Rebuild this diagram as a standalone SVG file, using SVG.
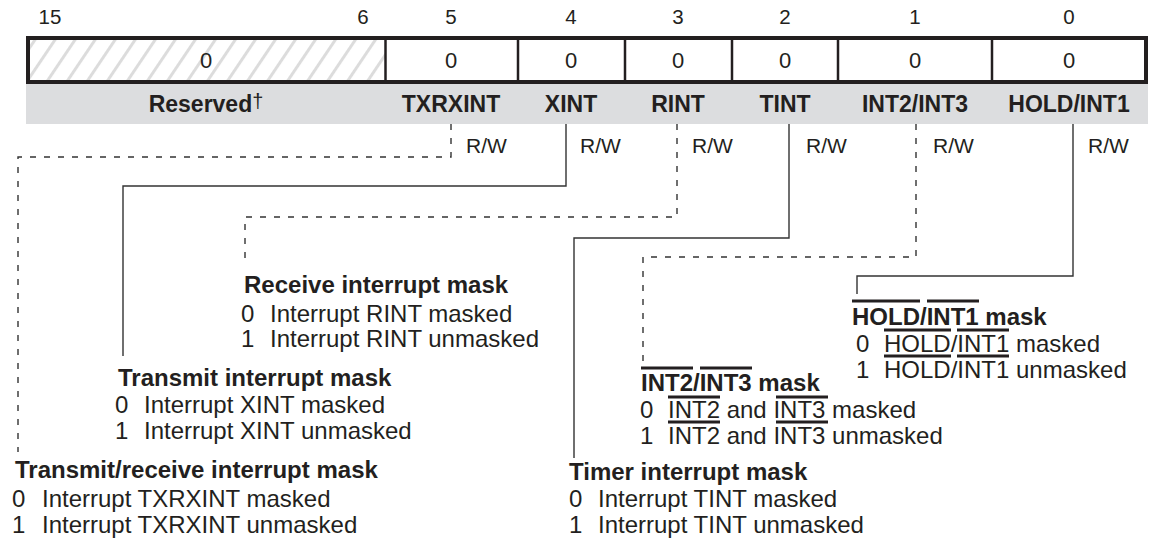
<svg xmlns="http://www.w3.org/2000/svg" width="1149" height="538" viewBox="0 0 1149 538">
<defs>
<pattern id="hatch" patternUnits="userSpaceOnUse" width="16.6" height="10" patternTransform="rotate(34)">
<rect x="0" y="0" width="3" height="10" fill="#dcdcdc"/>
</pattern>
</defs>
<style>
text{font-family:"Liberation Sans",Arial,sans-serif;fill:#231f20}
.bit{font-size:20.5px;text-anchor:middle}
.val{font-size:22px;text-anchor:middle}
.lbl{font-size:23px;font-weight:bold;text-anchor:middle}
.rw{font-size:21px}
.ttl{font-size:24px;font-weight:bold}
.d{font-size:24px}
.solid{fill:none;stroke:#333;stroke-width:1.4}
.dash{fill:none;stroke:#333;stroke-width:1.4;stroke-dasharray:6 8}
.bar{stroke:#231f20;stroke-width:3}
</style>
<g id="register">
<rect x="26" y="82" width="1122" height="42" fill="#dcdddf"/>
<rect x="28" y="38" width="357" height="44" fill="url(#hatch)"/>
<g stroke="#231f20" stroke-width="2.5">
<line x1="385.5" y1="38" x2="385.5" y2="82"/>
<line x1="518" y1="38" x2="518" y2="82"/>
<line x1="625" y1="38" x2="625" y2="82"/>
<line x1="732" y1="38" x2="732" y2="82"/>
<line x1="838" y1="38" x2="838" y2="82"/>
<line x1="992" y1="38" x2="992" y2="82"/>
</g>
<rect x="28" y="38" width="1118" height="44" fill="none" stroke="#231f20" stroke-width="4"/>
<text class="bit" x="50" y="24">15</text>
<text class="bit" x="363" y="24">6</text>
<text class="bit" x="451" y="24">5</text>
<text class="bit" x="571" y="24">4</text>
<text class="bit" x="678" y="24">3</text>
<text class="bit" x="785" y="24">2</text>
<text class="bit" x="915" y="24">1</text>
<text class="bit" x="1069" y="24">0</text>
<text class="val" x="206" y="68">0</text>
<text class="val" x="451" y="68">0</text>
<text class="val" x="571" y="68">0</text>
<text class="val" x="678" y="68">0</text>
<text class="val" x="785" y="68">0</text>
<text class="val" x="915" y="68">0</text>
<text class="val" x="1069" y="68">0</text>
<text class="lbl" x="206" y="112">Reserved<tspan font-weight="normal" font-size="20" dy="-4">†</tspan></text>
<text class="lbl" x="451" y="112">TXRXINT</text>
<text class="lbl" x="571" y="112">XINT</text>
<text class="lbl" x="678" y="112">RINT</text>
<text class="lbl" x="785" y="112">TINT</text>
<text class="lbl" x="915" y="112">INT2/INT3</text>
<text class="lbl" x="1069" y="112">HOLD/INT1</text>
<text class="rw" x="466" y="153">R/W</text>
<text class="rw" x="580" y="153">R/W</text>
<text class="rw" x="692" y="153">R/W</text>
<text class="rw" x="806" y="153">R/W</text>
<text class="rw" x="933" y="153">R/W</text>
<text class="rw" x="1088" y="153">R/W</text>
</g>
<g id="connectors">
<path class="dash" d="M451,124 V157 H18 V452"/>
<path class="solid" d="M566,124 V186 H123 V356"/>
<path class="dash" d="M677,124 V217 H245 V258"/>
<path class="solid" d="M789,124 V238 H574 V458"/>
<path class="dash" d="M916,124 V257 H643 V365"/>
<path class="solid" d="M1073,124 V276 H857 V294"/>
</g>
<g id="rint-mask">
<text class="ttl" x="244" y="293">Receive interrupt mask</text>
<text class="d" x="241" y="322">0</text><text class="d" x="270" y="322">Interrupt RINT masked</text>
<text class="d" x="241" y="347">1</text><text class="d" x="270" y="347">Interrupt RINT unmasked</text>
</g>
<g id="xint-mask">
<text class="ttl" x="118" y="386">Transmit interrupt mask</text>
<text class="d" x="115" y="413">0</text><text class="d" x="144" y="413">Interrupt XINT masked</text>
<text class="d" x="115" y="439">1</text><text class="d" x="144" y="439">Interrupt XINT unmasked</text>
</g>
<g id="txrxint-mask">
<text class="ttl" x="15" y="478">Transmit/receive interrupt mask</text>
<text class="d" x="12" y="507">0</text><text class="d" x="42" y="507">Interrupt TXRXINT masked</text>
<text class="d" x="12" y="533">1</text><text class="d" x="42" y="533">Interrupt TXRXINT unmasked</text>
</g>
<g id="tint-mask">
<text class="ttl" x="569" y="480">Timer interrupt mask</text>
<text class="d" x="569" y="507">0</text><text class="d" x="598" y="507">Interrupt TINT masked</text>
<text class="d" x="569" y="533">1</text><text class="d" x="598" y="533">Interrupt TINT unmasked</text>
</g>
<g id="int23-mask">
<line class="bar" x1="641" y1="368" x2="693" y2="368"/>
<line class="bar" x1="700" y1="368" x2="752" y2="368"/>
<text class="ttl" x="641" y="391">INT2/INT3 mask</text>
<line class="bar" x1="668" y1="397" x2="720" y2="397"/>
<line class="bar" x1="776" y1="397" x2="828" y2="397"/>
<text class="d" x="640" y="418">0</text><text class="d" x="668" y="418">INT2 and INT3 masked</text>
<line class="bar" x1="668" y1="422" x2="720" y2="422"/>
<line class="bar" x1="776" y1="422" x2="828" y2="422"/>
<text class="d" x="640" y="444">1</text><text class="d" x="668" y="444">INT2 and INT3 unmasked</text>
</g>
<g id="hold-mask">
<line class="bar" x1="852" y1="301" x2="920" y2="301"/>
<line class="bar" x1="927" y1="301" x2="979" y2="301"/>
<text class="ttl" x="852" y="325">HOLD/INT1 mask</text>
<line class="bar" x1="884" y1="330" x2="951" y2="330"/>
<line class="bar" x1="957" y1="330" x2="1009" y2="330"/>
<text class="d" x="856" y="352">0</text><text class="d" x="884" y="352">HOLD/INT1 masked</text>
<line class="bar" x1="884" y1="356" x2="951" y2="356"/>
<line class="bar" x1="957" y1="356" x2="1009" y2="356"/>
<text class="d" x="856" y="378">1</text><text class="d" x="884" y="378">HOLD/INT1 unmasked</text>
</g>
</svg>
